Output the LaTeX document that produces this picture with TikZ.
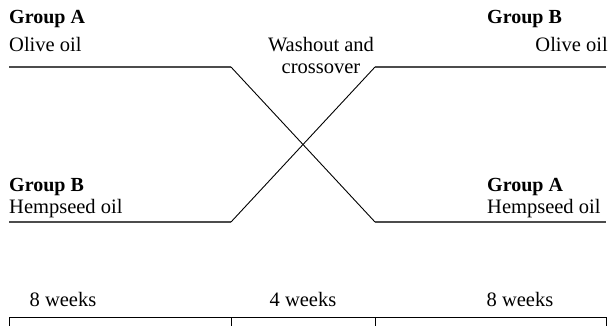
\documentclass[tikz,border=0pt]{standalone}
\usepackage{fontspec}
\setmainfont{Liberation Serif}
\begin{document}
\begin{tikzpicture}[x=1pt,y=-1pt,
  lbl/.style={inner sep=0pt,font=\fontsize{20.5}{22}\selectfont},
  grp/.style={lbl,font=\fontsize{20}{22}\selectfont\bfseries},
  arm/.style={draw=black!70,line width=1.4pt},
  cross/.style={draw=black,line width=0.9pt},
  tl/.style={draw=black,line width=1pt}]
\useasboundingbox (0,0) rectangle (616,325);
% coordinates
\coordinate (a1) at (9,67);
\coordinate (a2) at (231,67);
\coordinate (a3) at (375,222);
\coordinate (a4) at (606,222);
\coordinate (b1) at (9,222);
\coordinate (b2) at (231,222);
\coordinate (b3) at (375,67);
\coordinate (b4) at (606,67);
% labels
\node[grp,anchor=base west] (gA1) at (9,23) {Group A};
\node[lbl,anchor=base west] (oA1) at (9,51) {Olive oil};
\node[grp,anchor=base west] (gB2) at (487,23) {Group B};
\node[lbl,anchor=base east] (oB2) at (608,51) {Olive oil};
\node[grp,anchor=base west] (gB1) at (9,191) {Group B};
\node[lbl,anchor=base west] (hB1) at (9,213) {Hempseed oil};
\node[grp,anchor=base west] (gA2) at (487,191) {Group A};
\node[lbl,anchor=base west] (hA2) at (487,213) {Hempseed oil};
\node[lbl,align=center,anchor=base] (wash) at (321,73) {Washout and\\crossover};
% arms
\draw[arm] (a1) -- (a2);
\draw[cross] (a2) -- (a3);
\draw[arm] (a3) -- (a4);
\draw[arm] (b1) -- (b2);
\draw[cross] (b2) -- (b3);
\draw[arm] (b3) -- (b4);
% timeline
\coordinate (t1) at (9,317);
\coordinate (t2) at (231,317);
\coordinate (t3) at (375,317);
\coordinate (t4) at (606,317);
\draw[tl] (t1) -- (t4);
\draw[tl] (t1) -- ++(0,10);
\draw[tl] (t2) -- ++(0,10);
\draw[tl] (t3) -- ++(0,10);
\draw[tl] (t4) -- ++(0,10);
\node[lbl,anchor=base] (w1) at (63,306) {8 weeks};
\node[lbl,anchor=base] (w2) at (303,306) {4 weeks};
\node[lbl,anchor=base] (w3) at (520,306) {8 weeks};
\end{tikzpicture}
\end{document}
